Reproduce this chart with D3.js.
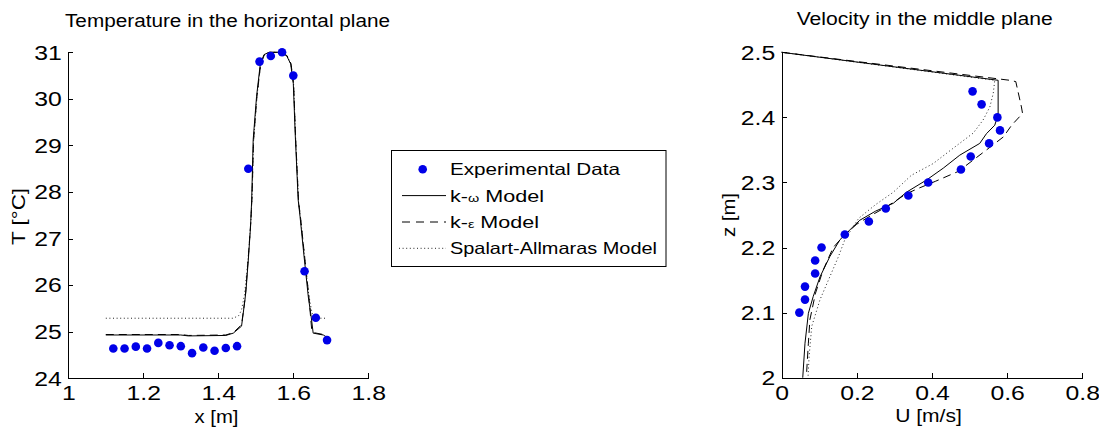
<!DOCTYPE html>
<html>
<head>
<meta charset="utf-8">
<script src="https://cdn.jsdelivr.net/npm/d3@7"></script>
<style>
  body { margin: 0; background: #fff; }
  svg { display: block; }
  text { font-family: "Liberation Sans", Arial, Helvetica, sans-serif; fill: #000; }
</style>
</head>
<body>
<svg id="chart" width="1099" height="432"></svg>
<script>
// ---- Temperature in the horizontal plane ----
const tempTicksX = [1, 1.2, 1.4, 1.6, 1.8];
const tempTicksY = [24, 25, 26, 27, 28, 29, 30, 31];

const expX = [1.12, 1.15, 1.18, 1.21, 1.24, 1.27, 1.30, 1.33, 1.36, 1.39,
              1.42, 1.45, 1.48, 1.51, 1.54, 1.57, 1.60, 1.63, 1.66, 1.69];
const expT = [24.64, 24.64, 24.68, 24.64, 24.76, 24.71, 24.69, 24.54, 24.66, 24.59,
              24.65, 24.69, 28.5, 30.8, 30.92, 31.0, 30.5, 26.3, 25.3, 24.82];

const kwX = [1.10, 1.30, 1.32, 1.42, 1.44, 1.462, 1.471, 1.474, 1.48, 1.486, 1.489, 1.493,
             1.502, 1.512, 1.522, 1.535, 1.565, 1.582, 1.593, 1.600, 1.605, 1.613, 1.618,
             1.627, 1.640, 1.648, 1.653, 1.68, 1.69];
const kwT = [24.93, 24.93, 24.91, 24.92, 24.97, 25.12, 25.68, 25.9, 26.54, 27.26, 27.83, 29.12,
             30.05, 30.75, 30.95, 31.0, 31.0, 30.93, 30.75, 30.33, 29.26, 27.83, 27.47,
             26.75, 25.75, 25.3, 24.97, 24.93, 24.88];

const keX = [1.10, 1.30, 1.32, 1.42, 1.44, 1.462, 1.472, 1.48, 1.487, 1.49, 1.494, 1.503,
             1.513, 1.523, 1.536, 1.565, 1.583, 1.594, 1.601, 1.606, 1.614, 1.62, 1.629,
             1.641, 1.649, 1.655, 1.68, 1.69];
const keT = [24.94, 24.94, 24.92, 24.93, 24.98, 25.15, 25.75, 26.6, 27.4, 27.9, 29.1, 30.05,
             30.75, 30.95, 31.0, 31.0, 30.93, 30.75, 30.3, 29.2, 27.8, 27.4, 26.7,
             25.8, 25.05, 24.98, 24.94, 24.9];

const saX = [1.10, 1.44, 1.455, 1.462, 1.47, 1.48, 1.487, 1.49, 1.494, 1.503, 1.513, 1.523,
             1.536, 1.565, 1.583, 1.594, 1.601, 1.606, 1.614, 1.62, 1.629, 1.641, 1.65,
             1.66, 1.69];
const saT = [25.29, 25.29, 25.35, 25.47, 25.8, 26.6, 27.4, 27.9, 29.1, 30.05, 30.75, 30.95,
             31.0, 31.0, 30.93, 30.75, 30.3, 29.2, 27.8, 27.4, 26.7, 25.8, 25.4,
             25.29, 25.29];

// ---- Velocity in the middle plane ----
const velTicksX = [0, 0.2, 0.4, 0.6, 0.8];
const velTicksY = [2, 2.1, 2.2, 2.3, 2.4, 2.5];

const expZ = [2.10, 2.12, 2.14, 2.16, 2.18, 2.20, 2.22, 2.24, 2.26,
              2.28, 2.30, 2.32, 2.34, 2.36, 2.38, 2.40, 2.42, 2.44];
const expU = [0.047, 0.062, 0.062, 0.089, 0.089, 0.106, 0.168, 0.232, 0.277,
              0.337, 0.39, 0.477, 0.503, 0.552, 0.581, 0.574, 0.532, 0.508];

const kwU = [0, 0.576, 0.576, 0.567, 0.545, 0.527, 0.474, 0.43, 0.386, 0.332, 0.297, 0.25,
             0.208, 0.19, 0.155, 0.128, 0.102, 0.084, 0.071, 0.062, 0.056];
const kwZ = [2.5, 2.457, 2.404, 2.388, 2.375, 2.36, 2.342, 2.322, 2.304, 2.285, 2.268, 2.256,
             2.242, 2.232, 2.212, 2.186, 2.155, 2.125, 2.099, 2.053, 2.0];

const keU = [0, 0.607, 0.623, 0.638, 0.641, 0.612, 0.59, 0.545, 0.47, 0.41, 0.36, 0.33, 0.28,
             0.24, 0.2, 0.165, 0.137, 0.11, 0.09, 0.075, 0.071, 0.066];
const keZ = [2.5, 2.457, 2.455, 2.416, 2.406, 2.388, 2.37, 2.35, 2.317, 2.302, 2.29, 2.282, 2.263,
             2.25, 2.236, 2.218, 2.2, 2.165, 2.13, 2.089, 2.053, 2.005];

const saU = [0, 0.567, 0.563, 0.554, 0.536, 0.51, 0.455, 0.403, 0.345, 0.297, 0.25, 0.205,
             0.168, 0.151, 0.128, 0.102, 0.08, 0.073, 0.07];
const saZ = [2.5, 2.457, 2.437, 2.416, 2.396, 2.376, 2.352, 2.329, 2.311, 2.285, 2.266, 2.245,
             2.212, 2.186, 2.155, 2.12, 2.079, 2.033, 2.0];

const legendNames = ["Experimental Data", "k-", "k-", "Spalart-Allmaras Model"];

const DOT = "#0000e8";
const svg = d3.select("#chart");

const xL = d3.scaleLinear().domain([1, 1.8]).range([68.3, 368.3]);
const yL = d3.scaleLinear().domain([24, 31]).range([378.3, 52.3]);
const xR = d3.scaleLinear().domain([0, 0.8]).range([781.7, 1082.3]);
const yR = d3.scaleLinear().domain([2, 2.5]).range([377.7, 52.3]);

const tickFont = 21, tickStretch = 1.18;

function styleAxis(g, side) {
  g.select(".domain").attr("stroke", "#000").attr("shape-rendering", "crispEdges");
  g.selectAll(".tick line").attr("stroke", "#000").attr("shape-rendering", "crispEdges");
  g.selectAll(".tick text")
    .attr("font-size", tickFont)
    .attr("font-family", "Liberation Sans, Arial, sans-serif")
    .attr("fill", "#000")
    .each(function () {
      const t = d3.select(this);
      if (side === "left") {
        t.attr("x", 0).attr("transform", `translate(-6.5,0) scale(${tickStretch},1)`);
      } else {
        t.attr("transform", `scale(${tickStretch},1)`);
      }
    });
}

function drawAxes(xs, ys, ticksX, ticksY) {
  const ax = svg.append("g")
    .attr("transform", `translate(0,${ys.range()[0]})`)
    .call(d3.axisBottom(xs).tickValues(ticksX).tickFormat(d3.format("~g"))
      .tickSize(-5).tickSizeOuter(0).tickPadding(7));
  styleAxis(ax, "bottom");
  const ay = svg.append("g")
    .attr("transform", `translate(${xs.range()[0]},0)`)
    .call(d3.axisLeft(ys).tickValues(ticksY).tickFormat(d3.format("~g"))
      .tickSize(-5).tickSizeOuter(0));
  styleAxis(ay, "left");
}

function stretchedText(str, x, y, size, len, anchor, rotate) {
  const t = svg.append("text")
    .attr("font-size", size)
    .attr("text-anchor", anchor || "start")
    .attr("textLength", len)
    .attr("lengthAdjust", "spacingAndGlyphs")
    .text(str);
  if (rotate) t.attr("transform", `translate(${x},${y}) rotate(-90)`);
  else t.attr("x", x).attr("y", y);
  return t;
}

function drawLine(xs, ys, X, Y, dash) {
  svg.append("path")
    .datum(d3.zip(X, Y))
    .attr("fill", "none")
    .attr("stroke", dash === "dot" ? "#222" : "#000")
    .attr("stroke-width", 1)
    .attr("stroke-dasharray", dash === "dash" ? "8,5" : dash === "dot" ? "1,2.6" : null)
    .attr("d", d3.line().x(d => xs(d[0])).y(d => ys(d[1])));
}

function drawDots(xs, ys, X, Y) {
  svg.append("g").selectAll("circle")
    .data(d3.zip(X, Y))
    .join("circle")
    .attr("cx", d => xs(d[0]))
    .attr("cy", d => ys(d[1]))
    .attr("r", 4.3)
    .attr("fill", DOT);
}

// Left panel: temperature
drawAxes(xL, yL, tempTicksX, tempTicksY);
drawLine(xL, yL, saX, saT, "dot");
drawLine(xL, yL, keX, keT, "dash");
drawLine(xL, yL, kwX, kwT, null);
drawDots(xL, yL, expX, expT);
stretchedText("Temperature in the horizontal plane", 65, 27, 17.5, 325);
stretchedText("x [m]", 216.5, 423, 17.5, 44, "middle");
stretchedText("T [°C]", 25, 216.5, 18, 57, "middle", true);

// Right panel: velocity
drawAxes(xR, yR, velTicksX, velTicksY);
drawLine(xR, yR, saU, saZ, "dot");
drawLine(xR, yR, keU, keZ, "dash");
drawLine(xR, yR, kwU, kwZ, null);
drawDots(xR, yR, expU, expZ);
stretchedText("Velocity in the middle plane", 796.7, 25, 17.5, 256);
stretchedText("U [m/s]", 928.5, 422, 17.5, 66.7, "middle");
stretchedText("z [m]", 735, 215, 17.5, 44, "middle", true);

// Legend
const lg = svg.append("g");
lg.append("rect")
  .attr("x", 391.5).attr("y", 150.5).attr("width", 274.5).attr("height", 116)
  .attr("fill", "#fff").attr("stroke", "#000").attr("stroke-width", 1);
const rowY = [169.3, 195.6, 222, 248.3];
lg.append("circle").attr("cx", 422.7).attr("cy", rowY[0]).attr("r", 4.3).attr("fill", DOT);
const sample = (y, dash) => lg.append("line")
  .attr("x1", dash === "dot" ? 399 : 402).attr("x2", 446).attr("y1", y).attr("y2", y)
  .attr("stroke", dash === "dot" ? "#222" : "#000").attr("stroke-width", 1)
  .attr("stroke-dasharray", dash === "dash" ? "8,6" : dash === "dot" ? "1,2.6" : null);
sample(rowY[1], null);
sample(rowY[2], "dash");
sample(rowY[3], "dot");

const legendFont = 16.5;
function legendText(y, len) {
  return lg.append("text").attr("x", 450).attr("y", y + 5.9)
    .attr("font-size", legendFont)
    .attr("textLength", len).attr("lengthAdjust", "spacingAndGlyphs");
}
legendText(rowY[0], 170).text(legendNames[0]);
const t1 = legendText(rowY[1], 94);
t1.append("tspan").text(legendNames[1]);
t1.append("tspan").attr("font-size", 11).text("ω");
t1.append("tspan").text(" Model");
const t2 = legendText(rowY[2], 89);
t2.append("tspan").text(legendNames[2]);
t2.append("tspan").attr("font-size", 11).text("ε");
t2.append("tspan").text(" Model");
legendText(rowY[3], 207).text(legendNames[3]);
</script>
</body>
</html>
